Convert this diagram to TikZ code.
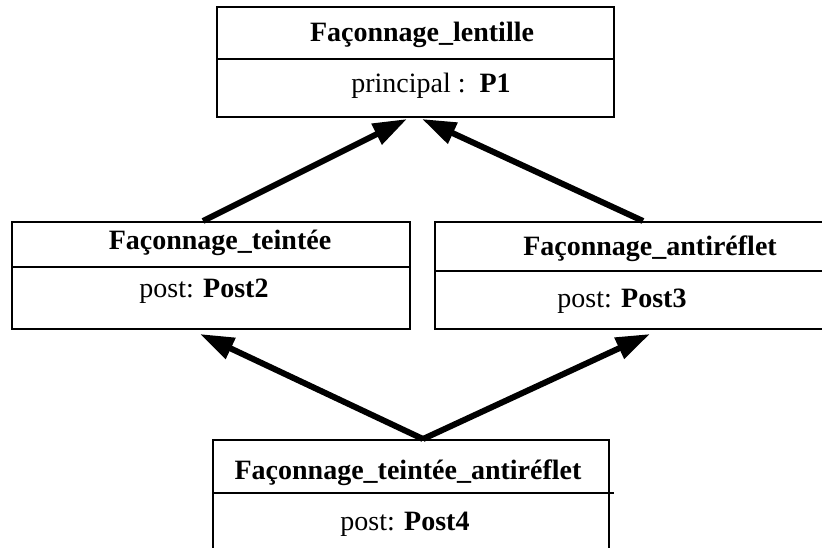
\documentclass[tikz,border=0pt]{standalone}
\usepackage{fontspec}
\setmainfont{Liberation Serif}
\usetikzlibrary{arrows.meta}
\begin{document}
\begin{tikzpicture}[x=1pt,y=-1pt,
  classbox/.style={draw, line width=2pt, inner sep=0pt, rectangle},
  divider/.style={line width=2.6pt},
  lbl/.style={anchor=base, inner sep=0pt, font=\fontsize{28}{32}\selectfont},
  inherit/.style={line width=6pt, -{Triangle[length=34pt,width=22pt]}}]
\clip (0,0) rectangle (822,548);
\fill[white] (0,0) rectangle (822,548);
% boxes
\node[classbox, minimum width=397pt, minimum height=110pt] (top) at (415.5,62) {};
\node[classbox, minimum width=398pt, minimum height=107pt] (lb) at (211,275.5) {};
\node[classbox, minimum width=389pt, minimum height=107pt] (rb) at (629.5,275.5) {};
\node[classbox, minimum width=396pt, minimum height=120pt] (bb) at (411,500) {};
% dividers
\draw[divider] (top.west |- 0,59) -- (top.east |- 0,59);
\draw[divider] (lb.west |- 0,267) -- (lb.east |- 0,267);
\draw[divider] (rb.west |- 0,271) -- (rb.east |- 0,271);
\draw[divider] (bb.west |- 0,493) -- ([xshift=4pt]bb.east |- 0,493);
% texts
\node[lbl] (toptitle) at (422,42) {\textbf{Façonnage\_lentille}};
\node[lbl] (topbody) at (431,93) {principal : \,\textbf{P1}};
\node[lbl] (lbtitle) at (220,250) {\textbf{Façonnage\_teintée}};
\node[lbl] (lbbody) at (204,298) {post: \textbf{Post2}};
\node[lbl] (rbtitle) at (650,255) {\textbf{Façonnage\_antiréflet}};
\node[lbl] (rbbody) at (622,307) {post: \textbf{Post3}};
\node[lbl] (bbtitle) at (408,479) {\textbf{Façonnage\_teintée\_antiréflet}};
\node[lbl] (bbbody) at (405,530) {post: \textbf{Post4}};
% connectors
\draw[inherit] ([xshift=-8pt]lb.north) -- ([xshift=-8.5pt,yshift=-1pt]top.south);
\draw[inherit] ([xshift=13.5pt]rb.north) -- ([xshift=6.5pt,yshift=-1pt]top.south);
\draw[inherit] ([xshift=12pt]bb.north) -- ([xshift=-11pt,yshift=-4pt]lb.south);
\draw[inherit] ([xshift=12pt]bb.north) -- ([xshift=20.5pt,yshift=-4pt]rb.south);
\end{tikzpicture}
\end{document}
